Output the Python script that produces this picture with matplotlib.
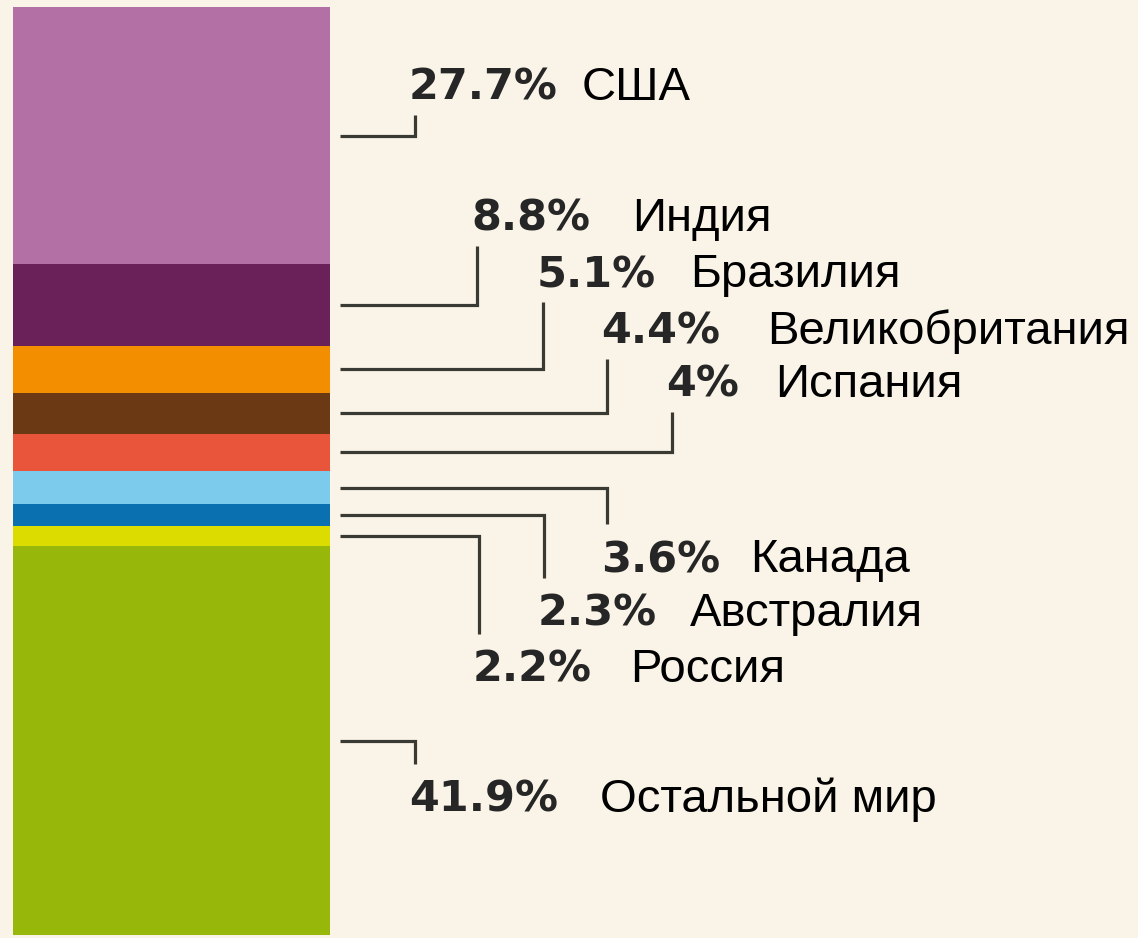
import matplotlib
matplotlib.use("Agg")
import matplotlib.pyplot as plt

# ---- data ----
countries = ["США", "Индия", "Бразилия", "Великобритания", "Испания",
             "Канада", "Австралия", "Россия", "Остальной мир"]
shares = [27.7, 8.8, 5.1, 4.4, 4.0, 3.6, 2.3, 2.2, 41.9]
share_labels = ["27.7%", "8.8%", "5.1%", "4.4%", "4%", "3.6%", "2.3%", "2.2%", "41.9%"]
colors = ["#b370a5", "#6a2159", "#f28e00", "#6b3a14", "#e8553a",
          "#7ccbec", "#0b70b0", "#dcdc00", "#97b80b"]

# ---- layout (pixels / percent positions of labels) ----
elbow_x = [415, 477, 543, 607, 672, 607, 544, 479, 415]
label_base = [10.0, 24.1, 30.2, 36.3, 42.0, 60.9, 66.7, 72.7, 86.7]   # baseline, % units
name_x = [582, 632, 690, 767, 775, 750, 690, 630, 600]

W, H = 1138, 938
BG = "#faf4e8"
fig = plt.figure(figsize=(W / 100, H / 100), dpi=100, facecolor=BG)
top_px, bot_px = 7, 935
ax = fig.add_axes([0, (H - bot_px) / H, 1, (bot_px - top_px) / H])
ax.set_facecolor(BG)
ax.set_xlim(0, W)
ax.set_ylim(100, 0)
ax.axis("off")

px = 100 / (bot_px - top_px)  # percent per pixel

bar_left, bar_right = 13, 330
bottom = 0.0
for v, col in zip(shares, colors):
    ax.bar((bar_left + bar_right) / 2, v, width=bar_right - bar_left, bottom=bottom,
           color=col, edgecolor="none")
    bottom += v

bottom = 0.0
for v, lab, ex, lb, name, nx in zip(shares, share_labels, elbow_x, label_base,
                                    countries, name_x):
    mid = bottom + v / 2
    bottom += v
    if lb < mid:
        end = lb + 15 * px
    else:
        end = lb - 48 * px
    ax.plot([340, ex, ex], [mid, mid, end], color="#3a3a34", lw=2.3,
            solid_joinstyle="miter", solid_capstyle="butt")
    ax.text(ex - 6, lb, lab, fontsize=31, fontweight="bold", color="#262626",
            family="DejaVu Sans", ha="left", va="baseline")
    ax.text(nx, lb, name, fontsize=34, color="black",
            family="Liberation Sans", ha="left", va="baseline")

fig.savefig("out.png", dpi=100, facecolor=BG)
